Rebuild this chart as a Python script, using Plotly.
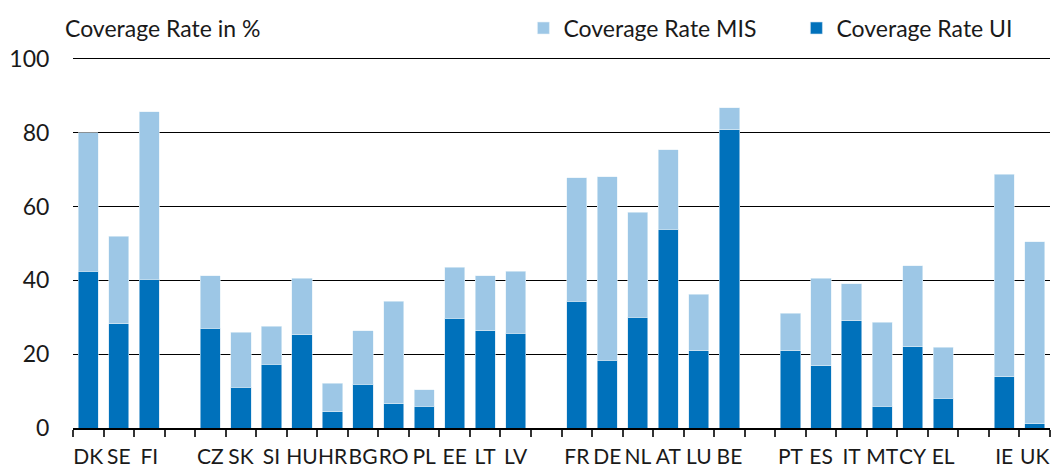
import plotly.graph_objects as go

# Country groups (gaps separate groups)
groups = [
    ["DK", "SE", "FI"],
    ["CZ", "SK", "SI", "HU", "HR", "BG", "RO", "PL", "EE", "LT", "LV"],
    ["FR", "DE", "NL", "AT", "LU", "BE"],
    ["PT", "ES", "IT", "MT", "CY", "EL"],
    ["IE", "UK"],
]
# Coverage rate UI (bottom) and total coverage (UI + MIS) in %
ui = [42.5, 28.2, 40.3,
      27.0, 11.0, 17.3, 25.3, 4.4, 11.8, 6.6, 5.9, 29.7, 26.4, 25.7,
      34.4, 18.4, 30.0, 53.8, 20.9, 80.8,
      20.9, 16.9, 29.0, 5.9, 22.0, 8.1,
      13.9, 1.1]
total = [80.0, 51.9, 85.7,
         41.3, 26.0, 27.5, 40.6, 12.1, 26.4, 34.4, 10.3, 43.6, 41.3, 42.5,
         67.8, 68.0, 58.5, 75.4, 36.3, 86.7,
         31.1, 40.6, 39.1, 28.6, 43.9, 21.9,
         68.7, 50.5]
mis = [round(t - u, 1) for t, u in zip(total, ui)]

# Build category axis with blank gap slots between groups
cats, ui_vals, mis_vals = [], [], []
i = 0
for g_idx, g in enumerate(groups):
    if g_idx > 0:
        cats.append(" " * g_idx)
        ui_vals.append(None)
        mis_vals.append(None)
    for c in g:
        cats.append(c)
        ui_vals.append(ui[i])
        mis_vals.append(mis[i])
        i += 1

DARK = "#0071BB"
LIGHT = "#9DC7E6"
FONT = "Lato"
FS = 23

fig = go.Figure()
fig.add_trace(go.Bar(x=cats, y=ui_vals, name="Coverage Rate UI",
                     marker=dict(color=DARK, line=dict(color="#cfe3f2", width=0.6))))
fig.add_trace(go.Bar(x=cats, y=mis_vals, name="Coverage Rate MIS",
                     marker=dict(color=LIGHT, line=dict(color="#e6f1f9", width=0.6))))

fig.update_layout(
    barmode="stack",
    bargap=0.34,
    width=1052, height=470,
    margin=dict(l=73, r=2, t=57, b=42, autoexpand=False),
    plot_bgcolor="white", paper_bgcolor="white",
    font=dict(family=FONT, size=FS, color="#1a1a1a"),
    showlegend=True,
    legend=dict(orientation="h", traceorder="reversed",
                x=0.461, xanchor="left", y=1.078, yanchor="middle",
                font=dict(size=FS), itemwidth=30, entrywidth=228,
                bgcolor="rgba(0,0,0,0)"),
    annotations=[dict(text="Coverage Rate in %", xref="paper", yref="paper",
                      x=-0.0102, y=1.078, xanchor="left", yanchor="middle",
                      showarrow=False, font=dict(size=FS))],
)
fig.update_xaxes(type="category", tickson="boundaries", ticks="outside",
                 ticklen=7, tickcolor="#333", tickwidth=1.5,
                 showline=True, linecolor="black", linewidth=1.5,
                 showgrid=False, ticklabelstandoff=9, tickangle=0,
                 tickfont=dict(size=21))
fig.update_yaxes(range=[0, 100.5], tickvals=[0, 20, 40, 60, 80, 100],
                 showgrid=True, gridcolor="black", gridwidth=1.2,
                 zeroline=False, showline=False,
                 ticks="outside", ticklen=18, tickcolor="rgba(0,0,0,0)",
                 tickfont=dict(size=FS))

fig.write_html("out.html", config={"displayModeBar": False},
               post_script="document.body.style.margin='0';")
